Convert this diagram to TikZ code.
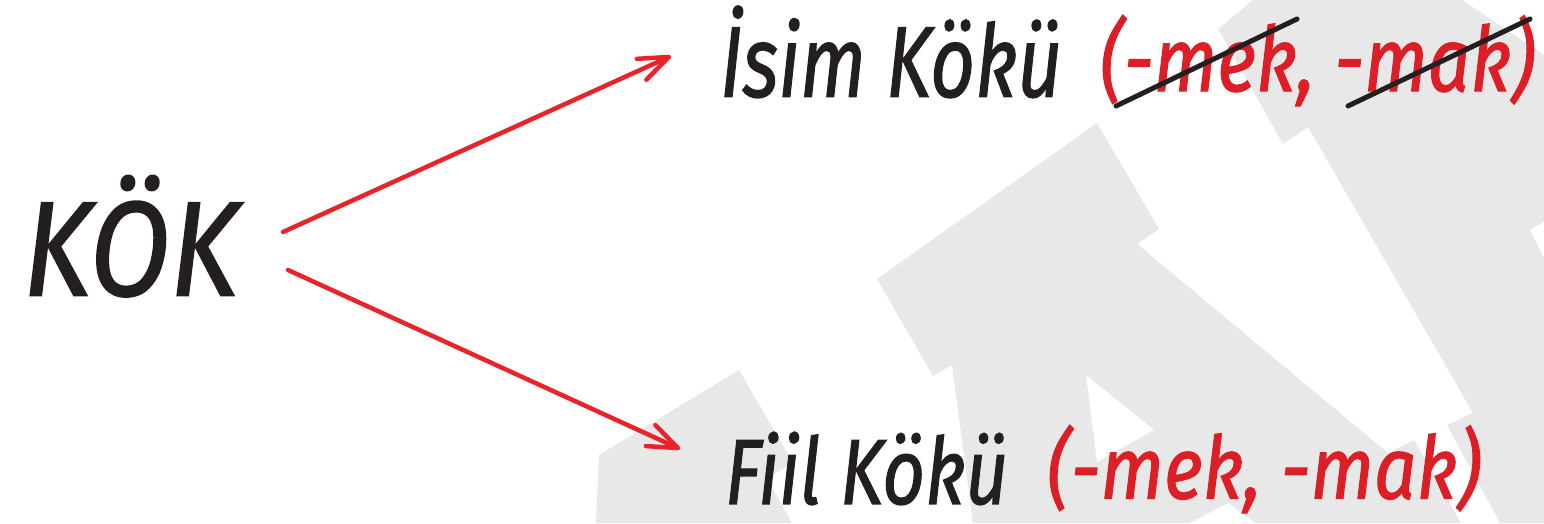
\documentclass[tikz,border=0pt]{standalone}
\usepackage{fontspec}
\setmainfont{Fira Sans}
\newfontfamily\handfont[FakeBold=1.3]{Fira Sans}
\usetikzlibrary{arrows.meta}
\definecolor{bggrey}{HTML}{E8E8E8}
\definecolor{ink}{HTML}{231F20}
\definecolor{redtxt}{HTML}{DC1F26}
\definecolor{redarrow}{HTML}{E8232A}
\begin{document}
\begin{tikzpicture}[x=1pt,y=-1pt,
  lbl/.style={inner sep=0pt, outer sep=0pt, anchor=south west, font=\handfont\itshape},
  arr/.style={draw=redarrow, line width=4.5pt, line cap=round, -{Straight Barb[length=30pt,width=23pt,round]}},
  strike/.style={draw=ink, line width=5pt, line cap=round},
  bg/.style={fill=bggrey, draw=none},
  hole/.style={fill=white, draw=none}]
\useasboundingbox (0,0) rectangle (1544,523);
\fill[white] (0,0) rectangle (1544,523);
% background shapes
\path[bg] (596,523) -- (599,455) -- (739,370) -- (793,463) -- (767,478) -- (792,523) -- cycle;
\path[bg] (1097,123) -- (1159,229) -- (1137,244) -- (1388,453) -- (1414,440) -- (1461,523) -- (973,523) -- (952,365) -- (933,376) -- (877,279) -- cycle;
\path[hole] (1086,375) -- (1154,430) -- (1097,462) -- cycle;
\path[hole] (1190,523) -- (1228,503) -- (1255,523) -- cycle;
\path[bg] (1253,0) -- (1462,0) -- (1544,55) -- (1544,523) -- (1500,523) -- (1447,425) -- (1473,413) -- (1308,127) -- (1283,144) -- (1218,29) -- cycle;
\path[hole] (1530,230) -- (1544,222) -- (1544,258) -- cycle;
% texts
\node[lbl, text=ink] (kok) at (23,297) {\resizebox{215pt}{120pt}{KÖK}};
\node[lbl, text=ink] (isim) at (720,98) {\resizebox{342pt}{91pt}{İsim Kökü}};
\node[lbl, text=redtxt] (suf1) at (1100,106) {\resizebox*{435pt}{91pt}{(-mek, -mak)}};
\node[lbl, text=ink] (fiil) at (725,505) {\resizebox{283pt}{72pt}{Fiil Kökü}};
\node[lbl, text=redtxt] (suf2) at (1047,513) {\resizebox*{434pt}{88pt}{(-mek, -mak)}};
% arrows
\coordinate (a1s) at (283,232);
\coordinate (a1e) at (671,56);
\coordinate (a2s) at (288,270);
\coordinate (a2e) at (680,449);
\draw[arr] (a1s) -- (a1e);
\draw[arr] (a2s) -- (a2e);
% strike-through lines
\coordinate (s1a) at (1116,106);
\coordinate (s1b) at (1297,19);
\coordinate (s2a) at (1348,106);
\coordinate (s2b) at (1530,19);
\draw[strike] (s1a) -- (s1b);
\draw[strike] (s2a) -- (s2b);
\end{tikzpicture}
\end{document}
